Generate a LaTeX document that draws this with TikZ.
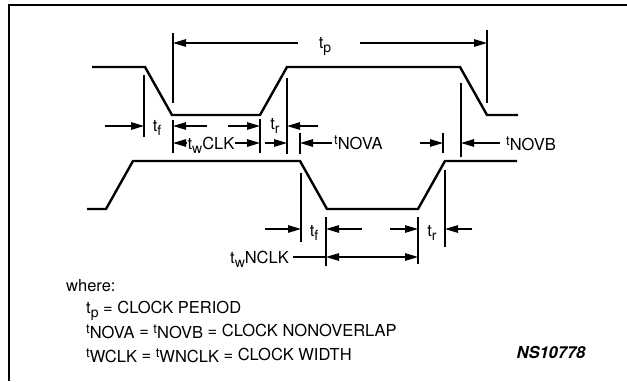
\documentclass[tikz,border=0pt]{standalone}
\usepackage{fontspec}
\setmainfont{TeX Gyre Heros}
\usetikzlibrary{arrows.meta}
\newcommand{\tsubs}[1]{t\raisebox{-4pt}{\fontsize{14}{14}\selectfont #1}}
\newcommand{\tcaps}[1]{\raisebox{2.5pt}{\fontsize{13}{13}\selectfont t}\raisebox{-2pt}{#1}}
\begin{document}
\begin{tikzpicture}[x=1pt,y=-1pt,
  wave/.style={line width=2.4pt, line join=miter},
  tick/.style={line width=1.4pt},
  dim/.style={line width=1.2pt, -{Triangle[length=13pt,width=7.5pt]}},
  dimboth/.style={line width=1.2pt, {Triangle[length=13pt,width=7.5pt]}-{Triangle[length=13pt,width=7.5pt]}},
  lbl/.style={font=\fontsize{16.5}{19}\selectfont, inner sep=0pt},
  frame/.style={line width=1.8pt}]
\useasboundingbox (0,0) rectangle (627,381);
\draw[frame] (627,5) -- (9,5) -- (9,381);

% waveforms
\draw[wave] (92,67) -- (145,67) -- (172,115) -- (260,115) -- (287,67) -- (460,67) -- (487,115) -- (518,115);
\draw[wave] (87,209) -- (106,209) -- (133,161) -- (300,161) -- (327,209) -- (418,209) -- (445,161) -- (517,161);

% tick lines (upper)
\coordinate (a1) at (144,75);  \coordinate (a2) at (144,137);
\coordinate (b1) at (173,33);  \coordinate (b2) at (173,103);
\coordinate (b3) at (173,120); \coordinate (b4) at (173,153);
\coordinate (c1) at (260,119); \coordinate (c2) at (260,153);
\coordinate (d1) at (287,78);  \coordinate (d2) at (287,154);
\coordinate (e1) at (300,133); \coordinate (e2) at (300,154);
\coordinate (f1) at (443,133); \coordinate (f2) at (443,153);
\coordinate (g1) at (461,83);  \coordinate (g2) at (461,157);
\coordinate (h1) at (487,30);  \coordinate (h2) at (487,103);
% tick lines (lower)
\coordinate (i1) at (301,173); \coordinate (i2) at (301,242);
\coordinate (j1) at (326,217); \coordinate (j2) at (326,266);
\coordinate (k1) at (418,217); \coordinate (k2) at (418,264);
\coordinate (l1) at (445,170); \coordinate (l2) at (445,247);
\foreach \p/\q in {a1/a2,b1/b2,b3/b4,c1/c2,d1/d2,e1/e2,f1/f2,g1/g2,h1/h2,i1/i2,j1/j2,k1/k2,l1/l2}
  \draw[tick] (\p) -- (\q);

% t_p
\draw[dim] (298,43) -- (173,43);
\draw[dim] (360,43) -- (487,43);
\node[lbl, anchor=base] (tp) at (325,48) {\tsubs{p}};

% first row
\draw[dim] (105,126) -- (144,126);
\node[lbl, anchor=base] (tf1) at (157,131) {\tsubs{f}};
\draw[dim] (207,126) -- (173,126);
\draw[dim] (228,126) -- (260,126);
\node[lbl, anchor=base] (tr1) at (275,129) {\tsubs{r}};
\draw[dim] (318,126) -- (287,126);

% second row
\draw[dimboth] (173,143) -- (260,143);
\node[lbl, anchor=base, fill=white, inner xsep=0.5pt] (twclk) at (211,149) {\tsubs{w}CLK};
\draw[dim] (265,143) -- (287,143);
\draw[dim] (332,143) -- (300,143);
\node[lbl, anchor=base west] (tnova) at (334,147) {\tcaps{NOVA}};
\draw[dim] (420,143) -- (443,143);
\draw[dim] (500,143) -- (461,143);
\node[lbl, anchor=base west] (tnovb) at (506,148) {\tcaps{NOVB}};

% lower rows
\draw[dim] (265,229) -- (301,229);
\node[lbl, anchor=base] (tf2) at (314,236) {\tsubs{f}};
\draw[dim] (362,229) -- (326,229);
\draw[dim] (390,229) -- (418,229);
\node[lbl, anchor=base] (tr2) at (432,236) {\tsubs{r}};
\draw[dim] (472,229) -- (445,229);

\node[lbl, anchor=base east] (twnclk) at (289,263) {\tsubs{w}NCLK};
\draw[line width=1.2pt] (293,257) -- (326,257);
\draw[dimboth] (326,257) -- (418,257);

% legend
\node[lbl, anchor=base west] (where) at (66,291) {where:};
\node[lbl, anchor=base west] (l1t) at (86,313) {\tsubs{p} = CLOCK PERIOD};
\node[lbl, anchor=base west] (l2t) at (86,336) {\tcaps{NOVA} = \tcaps{NOVB} = CLOCK NONOVERLAP};
\node[lbl, anchor=base west] (l3t) at (86,360) {\tcaps{WCLK} = \tcaps{WNCLK} = CLOCK WIDTH};
\node[lbl, anchor=base, font=\fontsize{16.5}{19}\selectfont\bfseries\itshape] (ns) at (551,358) {NS10778};
\end{tikzpicture}
\end{document}
